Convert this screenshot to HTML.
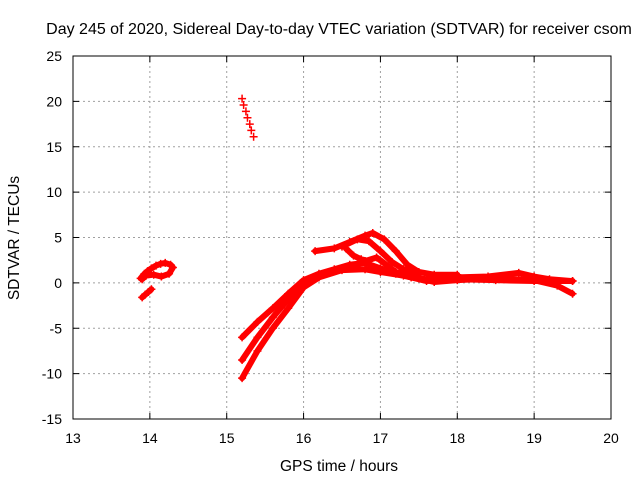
<!DOCTYPE html>
<html><head><meta charset="utf-8"><style>
body{margin:0;background:#fff}
svg{display:block;font-family:"Liberation Sans",sans-serif}
</style></head><body>
<svg id="chart" width="640" height="480">
<rect x="0" y="0" width="640" height="480" fill="#fff"/>
<g id="grid"></g><g id="axes"></g><g id="data"></g>
<text x="339" y="34" font-size="16" text-anchor="middle">Day 245 of 2020, Sidereal Day-to-day VTEC variation (SDTVAR) for receiver csom</text>
<text x="339" y="471" font-size="15.5" text-anchor="middle">GPS time / hours</text>
<text transform="translate(19,238) rotate(-90)" font-size="15.5" text-anchor="middle">SDTVAR / TECUs</text>
</svg>
<script>
const xTicks=[13,14,15,16,17,18,19,20];
const yTicks=[25,20,15,10,5,0,-5,-10,-15];
const spikeX=[15.2,15.22,15.25,15.27,15.3,15.32,15.35];
const spikeY=[20.3,19.6,18.9,18.2,17.5,16.8,16.1];
const leftAX=[13.88,13.93,13.97,14.02,14.08,14.14,14.2,14.27,14.3,14.25,14.15,14.05,13.95,13.9];
const leftAY=[0.5,1.0,1.3,1.6,1.9,2.1,2.2,2.0,1.7,1.0,0.7,0.9,0.8,0.4];
const leftBX=[13.9,13.94,13.98,14.02];
const leftBY=[-1.6,-1.3,-1.0,-0.7];
const s1X=[15.2,15.4,15.6,15.8,16.0,16.2,16.4,16.6,16.8,17.0,17.2,17.4,17.6,17.8,18.0,18.4,18.8,19.0,19.2,19.5];
const s1Y=[-6,-4.3,-2.8,-1.2,0.3,1.0,1.5,2.0,2.2,1.6,1.0,0.6,0.4,0.5,0.6,0.7,1.1,0.7,0.4,0.2];
const s2X=[15.2,15.4,15.6,15.8,16.0,16.2,16.4,16.6,16.8,16.95,17.2,17.5,17.7,18.0,18.5,19.0,19.3,19.5];
const s2Y=[-8.5,-6,-3.8,-1.8,0,0.9,1.4,1.8,2.4,2.8,1.2,0.5,0.1,0.3,0.5,0.3,-0.3,-1.2];
const s3X=[15.2,15.4,15.6,15.8,16.0,16.2,16.5,16.8,17.0,17.3,17.6,18.0,18.5,19.0,19.5];
const s3Y=[-10.5,-7.5,-5,-2.8,-0.5,0.6,1.4,1.5,1.2,0.8,0.2,0.4,0.3,0.2,0.2];
const s4X=[16.15,16.4,16.6,16.8,16.9,17.05,17.2,17.35,17.5,17.7,18.0];
const s4Y=[3.5,3.8,4.5,5.2,5.5,4.8,3.5,2.0,1.2,0.9,0.9];
const s5X=[16.5,16.7,16.85,17.0,17.15,17.3,17.5];
const s5Y=[4.0,4.8,4.6,3.5,2.3,1.5,1.0];
const s6X=[16.55,16.65,16.75,16.85];
const s6Y=[3.8,3.0,2.6,2.4];

const X0=73,X1=611,Y0=419,Y1=56;
const sx=v=>X0+(v-13)/(20-13)*(X1-X0);
const sy=v=>Y0-(v+15)/(25+15)*(Y0-Y1);
const NS="http://www.w3.org/2000/svg";
function mk(tag,attrs,parent){const e=document.createElementNS(NS,tag);for(const k in attrs)e.setAttribute(k,attrs[k]);parent.appendChild(e);return e;}
const grid=document.getElementById('grid'),axes=document.getElementById('axes'),data=document.getElementById('data');
xTicks.forEach(t=>{
  const x=sx(t);
  if(t>13&&t<20){const g=mk('line',{x1:x,x2:x,y1:Y1,y2:Y0,stroke:'#a0a0a0','stroke-dasharray':'2,3'},grid);
  
  }
  mk('line',{x1:x,x2:x,y1:Y0,y2:Y0-6,stroke:'#000'},axes);
  mk('line',{x1:x,x2:x,y1:Y1,y2:Y1+6,stroke:'#000'},axes);
  const l=mk('text',{x:x,y:Y0+24,'font-size':14,'text-anchor':'middle'},axes);l.textContent=t;
  
  
});
yTicks.forEach(t=>{
  const y=sy(t);
  if(t>-15&&t<25){const g=mk('line',{x1:X0,x2:X1,y1:y,y2:y,stroke:'#a0a0a0','stroke-dasharray':'2,3'},grid);
  
  }
  mk('line',{x1:X0,x2:X0+6,y1:y,y2:y,stroke:'#000'},axes);
  mk('line',{x1:X1,x2:X1-6,y1:y,y2:y,stroke:'#000'},axes);
  const l=mk('text',{x:X0-11,y:y+5,'font-size':14,'text-anchor':'end'},axes);l.textContent=t;
  
  
});
const frame=mk('rect',{x:X0,y:Y1,width:X1-X0,height:Y0-Y1,fill:'none',stroke:'#000'},axes);


function series(xs,ys,name,band){
  const g=mk('g',{},data);
  
  
  if(band){mk('polyline',{points:xs.map((x,i)=>sx(x)+','+sy(ys[i])).join(' '),fill:'none',stroke:'#ff0000','stroke-width':6,'stroke-linejoin':'round','stroke-linecap':'round'},g);}
  xs.forEach((x,i)=>{const px=sx(x),py=sy(ys[i]);
    mk('path',{d:`M${px-4},${py}h8M${px},${py-4}v8`,stroke:'#ff0000','stroke-width':1.5},g);});
}
series(spikeX,spikeY,'spike-series',false);
series(leftAX,leftAY,'left-cluster',true);
series(leftBX,leftBY,'left-dip',true);
series(s1X,s1Y,'track-1',true);
series(s2X,s2Y,'track-2',true);
series(s3X,s3Y,'track-3',true);
series(s4X,s4Y,'upper-track',true);
series(s5X,s5Y,'upper-branch',true);
series(s6X,s6Y,'connector-branch',true);
</script>
</body></html>
